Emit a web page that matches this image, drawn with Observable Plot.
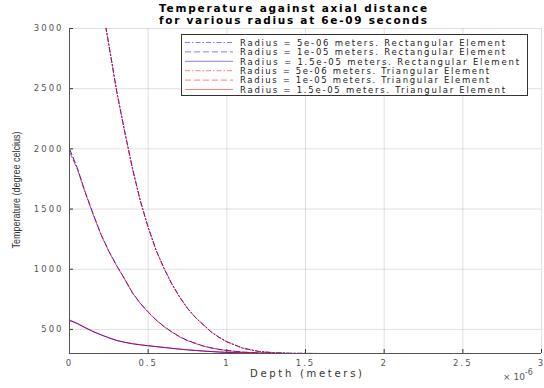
<!DOCTYPE html>
<html><head><meta charset="utf-8">
<script src="https://cdn.jsdelivr.net/npm/d3@7"></script>
<script src="https://cdn.jsdelivr.net/npm/@observablehq/plot@0.6"></script>
<style>body{margin:0;background:#fff;} #chart{position:relative;width:544px;height:388px;}</style>
</head><body><div id="chart"></div>
<script>
// depth in units of 1e-6 m
const depth = [0,0.05,0.1,0.15,0.2,0.25,0.3,0.35,0.4,0.45,0.5,0.55,0.6,0.65,0.7,0.75,0.8,0.85,0.9,0.95,1.0,1.1,1.2,1.3,1.4,1.5,1.6,1.8,2.0,2.5,3.0];
const rect5  = [5000,4550,4100,3670,3250,2870,2480,2150,1840,1570,1350,1160,1010,880,770,675,600,540,480,435,398,345,318,306,302,301,300,300,300,300,300];
const rect10 = [2000,1840,1640,1460,1290,1150,1030,920,805,717,645,580,525,480,440,408,385,362,347,335,325,312,304,301,300,300,300,300,300,300,300];
const rect15 = [575,548,514,482,455,430,408,393,381,372,364,357,350,343,336,330,325,320,316,312,309,305,302,301,300,300,300,300,300,300,300];
const tri5   = [5000,4540,4090,3660,3240,2860,2475,2145,1835,1565,1345,1158,1008,878,768,674,599,538,479,434,397,344,317,306,302,301,300,300,300,300,300];
const tri10  = [1975,1830,1635,1455,1288,1148,1028,918,803,715,643,578,523,478,438,406,383,361,346,334,324,311,304,301,300,300,300,300,300,300,300];
const tri15  = [580,552,516,484,456,431,409,394,382,373,365,358,351,344,337,331,326,321,317,313,310,306,303,301,300,300,300,300,300,300,300];

const seriesValues = [rect5, rect10, rect15, tri5, tri10, tri15];
const seriesNames = [
  "Radius = 5e-06 meters. Rectangular Element",
  "Radius = 1e-05 meters. Rectangular Element",
  "Radius = 1.5e-05 meters. Rectangular Element",
  "Radius = 5e-06 meters. Triangular Element",
  "Radius = 1e-05 meters. Triangular Element",
  "Radius = 1.5e-05 meters. Triangular Element"
];
const seriesColors = ["#0000ff","#0000ff","#0000ff","#ff0000","#ff0000","#ff0000"];
const seriesOpacity = [0.9,0.9,0.9,0.75,0.75,0.6];
const seriesDash = ["5,2,1.5,2","6,3","none","5,2,1.5,2","6,3","none"];
const xTicks = [0,0.5,1,1.5,2,2.5,3];
const xTickLabels = ["0","0.5","1","1.5","2","2.5","3"];
const yTicks = [500,1000,1500,2000,2500,3000];
const titleLines = ["Temperature against axial distance","for various radius at 6e-09 seconds"];
const xLabel = "Depth (meters)";
const yLabel = "Temperature (degree celcius)";

const font = "'Liberation Sans', Arial, sans-serif";
const wide = "'DejaVu Sans', sans-serif";

const lineMarks = seriesValues.map((vals, i) =>
  Plot.line(depth.map((d, j) => ({d, t: vals[j]})), {
    x: "d", y: "t", stroke: seriesColors[i], strokeDasharray: seriesDash[i],
    strokeWidth: 1, strokeOpacity: seriesOpacity[i], clip: true
  })
);

const chart = Plot.plot({
  width: 544, height: 388,
  marginLeft: 69, marginRight: 3, marginTop: 28, marginBottom: 35,
  x: {domain: [0, 3]},
  y: {domain: [300, 3000]},
  style: {fontFamily: wide, fontSize: "8.5px", color: "#555", background: "#fff", overflow: "visible"},
  marks: [
    Plot.gridX(xTicks, {stroke: "#000", strokeOpacity: 0.12}),
    Plot.gridY(yTicks, {stroke: "#000", strokeOpacity: 0.12}),
    ...lineMarks,
    Plot.axisX({ticks: xTicks, tickSize: -4, tickPadding: 10, tickFormat: d => xTickLabels[xTicks.indexOf(d)], label: null, stroke: "#333"}),
    Plot.axisY({ticks: yTicks, tickSize: -4, tickPadding: 10, tickFormat: d => String(d), label: null, stroke: "#333"}),
    Plot.ruleX([0], {stroke: "#555"}),
    Plot.ruleY([300], {stroke: "#555"})
  ]
});
document.getElementById("chart").appendChild(chart);

const svg = d3.select(chart);
svg.selectAll("g[aria-label='x-axis tick label'] text, g[aria-label='y-axis tick label'] text")
  .attr("letter-spacing", "2px");

// title
svg.append("g").selectAll("text").data(titleLines).join("text")
  .attr("x", 293).attr("y", (d, i) => 12 + i * 12)
  .attr("text-anchor", "middle")
  .attr("font-family", wide).attr("font-size", "10.5px").attr("font-weight", "bold")
  .attr("fill", "#000")
  .attr("textLength", 268).attr("lengthAdjust", "spacing")
  .text(d => d);

// axis labels
svg.append("text").attr("x", 306).attr("y", 377).attr("text-anchor", "middle")
  .attr("font-family", wide).attr("font-size", "10px").attr("fill", "#333")
  .attr("textLength", 112).attr("lengthAdjust", "spacing").text(xLabel);
svg.append("text").attr("transform", "translate(20,190) rotate(-90)").attr("text-anchor", "middle")
  .attr("font-family", font).attr("font-size", "11px").attr("fill", "#333")
  .attr("textLength", 117).attr("lengthAdjust", "spacingAndGlyphs").text(yLabel);
const expo = svg.append("text").attr("x", 503).attr("y", 380).attr("text-anchor", "start")
  .attr("font-family", wide).attr("font-size", "9px").attr("fill", "#555");
expo.append("tspan").text("\u00d7 10");
expo.append("tspan").attr("dy", -5).attr("font-size", "8px").text("-6");

// legend
const lg = svg.append("g");
lg.append("rect").attr("x", 181.5).attr("y", 34.5).attr("width", 346).attr("height", 61)
  .attr("fill", "#fff").attr("stroke", "#333").attr("stroke-width", 1);
seriesNames.forEach((name, i) => {
  const y = 42.5 + i * 9.4;
  lg.append("line").attr("x1", 185).attr("x2", 233).attr("y1", y).attr("y2", y)
    .attr("stroke", seriesColors[i]).attr("stroke-opacity", 0.5)
    .attr("stroke-dasharray", seriesDash[i]).attr("stroke-width", 1);
  lg.append("text").attr("x", 240).attr("y", y + 3.2).attr("text-anchor", "start")
    .attr("font-family", wide).attr("font-size", "8.5px").attr("fill", "#222")
    .attr("textLength", name.includes("1.5e-05") ? (i < 3 ? 279 : 265) : (i < 3 ? 265 : 249))
    .attr("lengthAdjust", "spacing").text(name);
});
</script>
</body></html>
